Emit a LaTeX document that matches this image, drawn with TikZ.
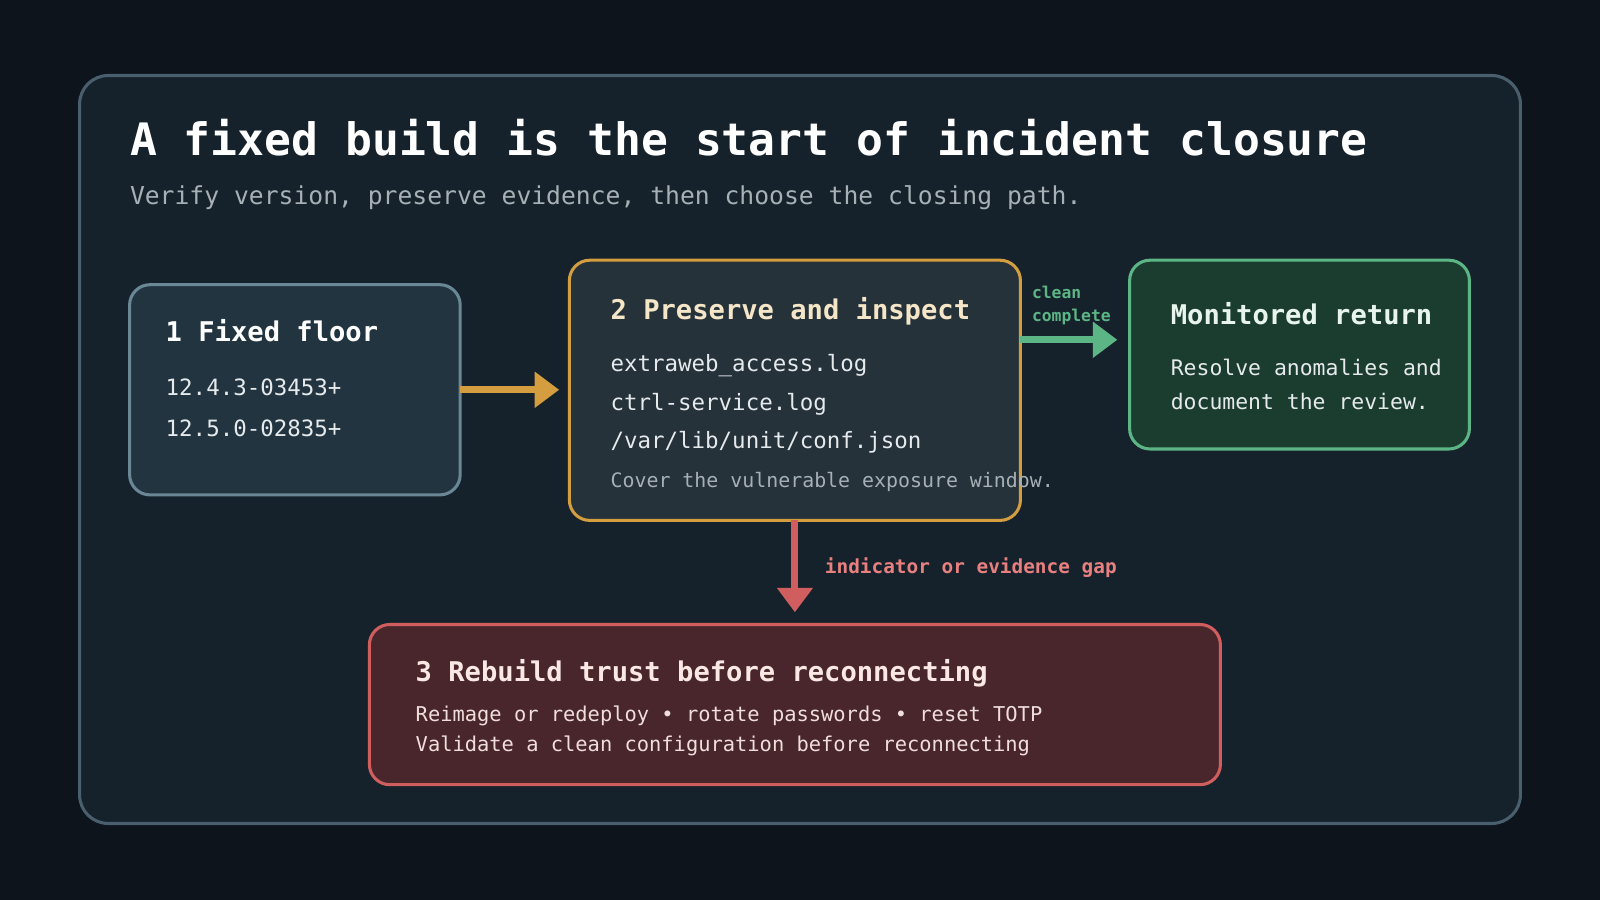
\documentclass[tikz,border=0pt]{standalone}
\usepackage{fontspec}
\setmonofont{DejaVu Sans Mono}
\setmainfont{DejaVu Sans Mono}
\usetikzlibrary{arrows.meta}
\definecolor{bg}{HTML}{0D141B}
\definecolor{panel}{HTML}{16222B}
\definecolor{panelb}{HTML}{4A5F6D}
\definecolor{b1f}{HTML}{22343F}\definecolor{b1s}{HTML}{6A8796}
\definecolor{b2f}{HTML}{25323A}\definecolor{b2s}{HTML}{D39D40}
\definecolor{b3f}{HTML}{1B3D30}\definecolor{b3s}{HTML}{5CB585}
\definecolor{b4f}{HTML}{48262B}\definecolor{b4s}{HTML}{D05E5E}
\definecolor{txt}{HTML}{E6EAEC}\definecolor{sub}{HTML}{A6B0B5}
\definecolor{lbl}{HTML}{E88080}
\tikzset{
 box/.style={rounded corners=10pt,line width=1.5pt},
 t/.style={anchor=base west,inner sep=0pt},
 btitle/.style={t,font=\fontsize{13.3}{15}\selectfont\bfseries},
 arr/.style={line width=3.5pt,-{Triangle[length=12pt,width=17pt]}},
}
\begin{document}
\begin{tikzpicture}[x=0.5pt,y=-0.5pt]
\fill[bg] (0,0) rectangle (1568,882);
\useasboundingbox (0,0) rectangle (1568,882);
\draw[panelb,fill=panel,rounded corners=14pt,line width=1.5pt] (78,74) rectangle (1490,807);
\node[t,text=white,font=\fontsize{21.9}{24}\selectfont\bfseries] (title) at (127,152) {A fixed build is the start of incident closure};
\node[t,text=sub,font=\fontsize{12.1}{14}\selectfont] (subt) at (127,200) {Verify version, preserve evidence, then choose the closing path.};
% box1
\draw[box,b1s,fill=b1f] (127,279) rectangle (451,485);
\coordinate (b1e) at (451,382);
\node[btitle,text=white] (b1t) at (162,335) {1 Fixed floor};
\node[t,text=txt,font=\fontsize{11}{13}\selectfont] (b1a) at (162,388) {12.4.3-03453+};
\node[t,text=txt,font=\fontsize{11}{13}\selectfont] (b1b) at (162,428) {12.5.0-02835+};
% box2
\draw[box,b2s,fill=b2f] (558,255) rectangle (1000,510);
\coordinate (b2w) at (548,382);
\coordinate (b2e) at (1000,333);
\coordinate (b2s) at (779,510);
\node[btitle,text={rgb,255:red,245;green,230;blue,200}] (b2t) at (598,313) {2 Preserve and inspect};
\node[t,text=txt,font=\fontsize{11}{13}\selectfont] (b2a) at (598,364) {extraweb\_access.log};
\node[t,text=txt,font=\fontsize{11}{13}\selectfont] (b2b) at (598,402) {ctrl-service.log};
\node[t,text=txt,font=\fontsize{11}{13}\selectfont] (b2c) at (598,440) {/var/lib/unit/conf.json};
\node[t,text=sub,font=\fontsize{9.75}{12}\selectfont] (b2d) at (598,478) {Cover the vulnerable exposure window.};
% box3
\draw[box,b3s,fill=b3f] (1107,255) rectangle (1440,440);
\coordinate (b3w) at (1095,333);
\node[btitle,text={rgb,255:red,232;green,245;blue,236}] (b3t) at (1147,318) {Monitored return};
\node[t,text=txt,font=\fontsize{10.5}{12}\selectfont] (b3a) at (1147,368) {Resolve anomalies and};
\node[t,text=txt,font=\fontsize{10.5}{12}\selectfont] (b3b) at (1147,401) {document the review.};
% box4
\draw[box,b4s,fill=b4f] (362,612) rectangle (1196,769);
\coordinate (b4n) at (779,600);
\node[btitle,text={rgb,255:red,250;green,232;blue,228}] (b4t) at (407,668) {3 Rebuild trust before reconnecting};
\node[t,text={rgb,255:red,240;green,222;blue,220},font=\fontsize{10}{12}\selectfont] (b4a) at (407,707) {Reimage or redeploy • rotate passwords • reset TOTP};
\node[t,text={rgb,255:red,240;green,222;blue,220},font=\fontsize{10}{12}\selectfont] (b4b) at (407,736) {Validate a clean configuration before reconnecting};
% arrows
\draw[arr,b2s] (b1e) -- (b2w);
\draw[arr,b3s] (b2e) -- (b3w);
\draw[arr,b4s] (b2s) -- (b4n);
\node[t,text=b3s,font=\fontsize{8}{9}\selectfont\bfseries] (l1) at (1011,293) {clean};
\node[t,text=b3s,font=\fontsize{8}{9}\selectfont\bfseries] (l2) at (1011,315) {complete};
\node[t,text=lbl,font=\fontsize{9.5}{11}\selectfont\bfseries] (l3) at (808,562) {indicator or evidence gap};
\end{tikzpicture}
\end{document}
